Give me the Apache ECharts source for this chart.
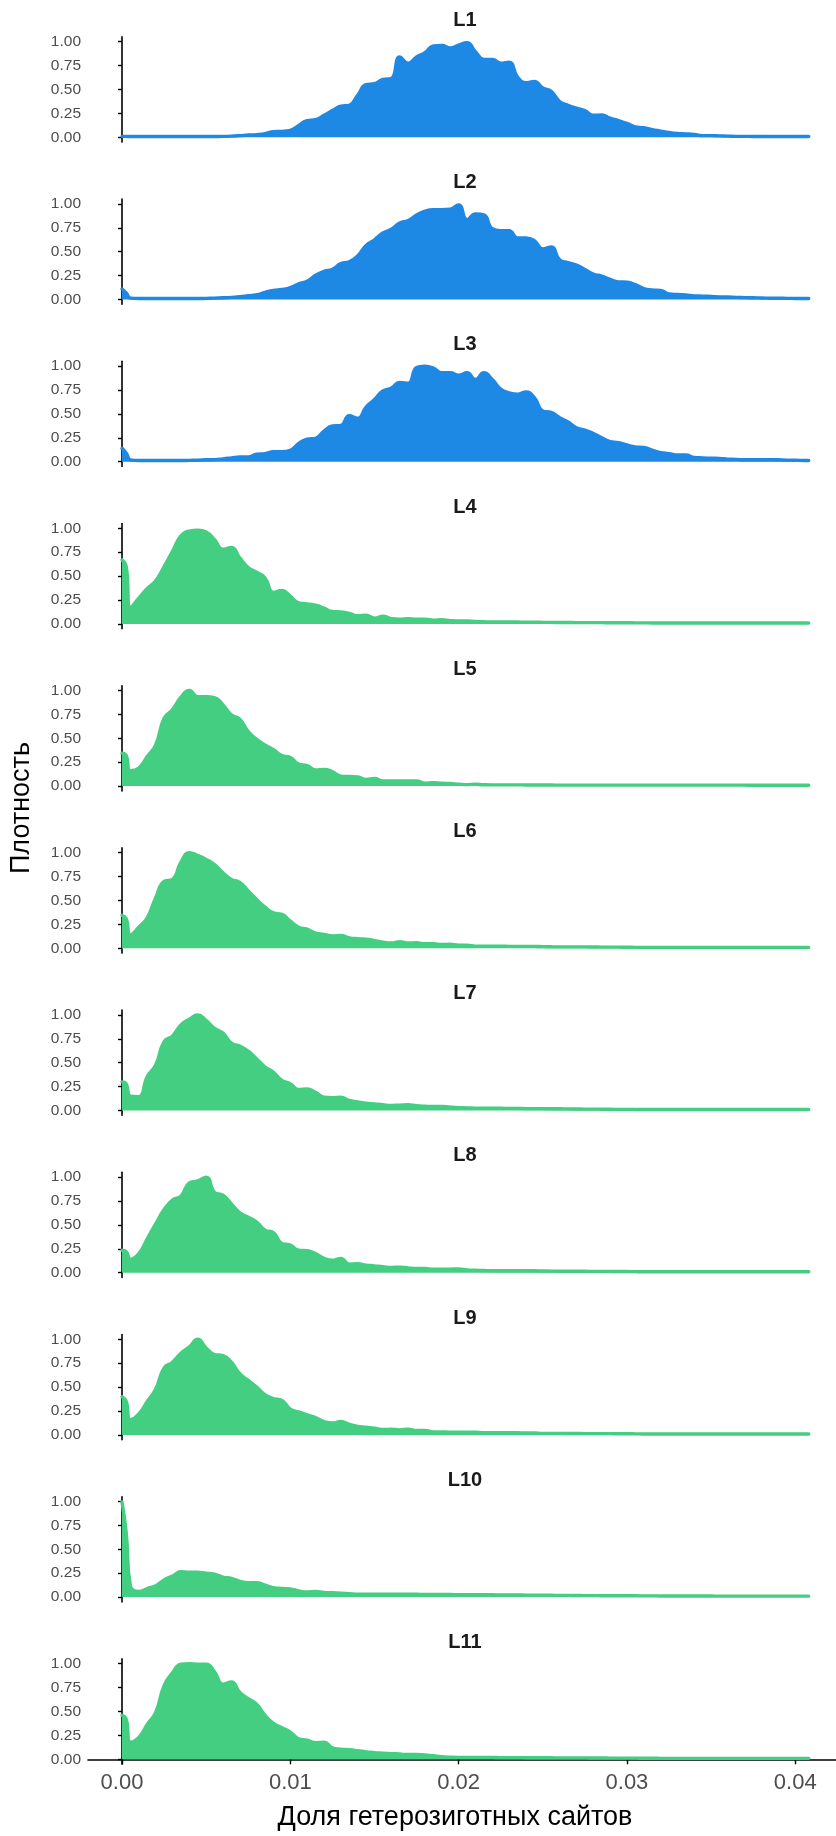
<!DOCTYPE html>
<html>
<head>
<meta charset="utf-8">
<script src="https://cdn.jsdelivr.net/npm/echarts@6/dist/echarts.min.js"></script>
<style>html,body{margin:0;padding:0;background:#fff}#c{width:836px;height:1836px}</style>
</head>
<body>
<div id="c"></div>
<script>
// ---- data ----
const panelNames = ['L1','L2','L3','L4','L5','L6','L7','L8','L9','L10','L11'];
const xTicks = [0, 0.01, 0.02, 0.03, 0.04];
const yTicks = [0, 0.25, 0.5, 0.75, 1];
const X = [0,0.00025,0.0005,0.001,0.0015,0.002,0.0025,0.003,0.0035,0.004,
  0.0045,0.005,0.0055,0.006,0.0065,0.007,0.0075,0.008,0.0085,0.009,
  0.0095,0.01,0.0105,0.011,0.0115,0.012,0.0125,0.013,0.0135,0.014,
  0.0145,0.015,0.0155,0.016,0.0165,0.017,0.0175,0.018,0.0185,0.019,
  0.0195,0.02,0.0205,0.021,0.0215,0.022,0.0225,0.023,0.0235,0.024,
  0.0245,0.025,0.0255,0.026,0.0265,0.027,0.0275,0.028,0.0285,0.029,
  0.0295,0.03,0.0305,0.031,0.0315,0.032,0.0325,0.033,0.0335,0.034,
  0.0345,0.035,0.0355,0.036,0.0365,0.037,0.0375,0.038,0.0385,0.039,
  0.0395,0.04,0.0405,0.0408];
const L1 = [0.01,0.01,0.008,0.008,0.008,0.008,0.008,0.008,0.008,0.008,
  0.008,0.008,0.009,0.01,0.013,0.018,0.024,0.028,0.038,0.06,
  0.062,0.072,0.125,0.175,0.185,0.23,0.28,0.325,0.335,0.44,
  0.55,0.56,0.605,0.615,0.84,0.775,0.84,0.885,0.955,0.96,
  0.935,0.965,0.99,0.895,0.815,0.815,0.775,0.785,0.63,0.57,
  0.585,0.515,0.48,0.375,0.335,0.305,0.28,0.23,0.235,0.2,
  0.175,0.145,0.11,0.1,0.08,0.065,0.05,0.04,0.036,0.03,
  0.018,0.018,0.015,0.012,0.01,0.01,0.009,0.009,0.008,0.008,
  0.008,0.008,0.008,0.008];
const L2 = [0.11,0.07,0.015,0.01,0.01,0.01,0.01,0.01,0.01,0.01,
  0.01,0.012,0.015,0.018,0.022,0.03,0.04,0.05,0.075,0.095,
  0.105,0.125,0.165,0.19,0.255,0.295,0.315,0.375,0.395,0.455,
  0.565,0.625,0.695,0.735,0.8,0.825,0.885,0.925,0.94,0.94,
  0.945,0.99,0.835,0.895,0.885,0.74,0.72,0.72,0.645,0.645,
  0.615,0.53,0.55,0.415,0.385,0.36,0.315,0.265,0.245,0.21,
  0.185,0.18,0.155,0.115,0.1,0.095,0.058,0.052,0.048,0.038,
  0.036,0.032,0.028,0.026,0.022,0.02,0.018,0.016,0.014,0.013,
  0.012,0.011,0.01,0.01];
const L3 = [0.14,0.09,0.02,0.012,0.012,0.012,0.012,0.012,0.012,0.014,
  0.016,0.02,0.022,0.03,0.04,0.05,0.05,0.08,0.085,0.105,
  0.105,0.12,0.19,0.235,0.245,0.32,0.375,0.38,0.48,0.455,
  0.57,0.65,0.74,0.77,0.83,0.82,0.985,1.0,0.98,0.93,
  0.93,0.905,0.93,0.86,0.93,0.86,0.76,0.72,0.705,0.73,
  0.67,0.53,0.515,0.46,0.415,0.355,0.33,0.295,0.25,0.21,
  0.2,0.175,0.155,0.15,0.12,0.095,0.085,0.07,0.07,0.045,
  0.04,0.037,0.034,0.027,0.024,0.02,0.02,0.02,0.022,0.02,
  0.017,0.016,0.013,0.012];
const L4 = [0.67,0.6,0.17,0.27,0.37,0.45,0.6,0.76,0.92,0.97,
  0.98,0.96,0.88,0.78,0.8,0.69,0.59,0.54,0.48,0.33,
  0.35,0.29,0.22,0.21,0.195,0.165,0.13,0.125,0.11,0.085,
  0.09,0.06,0.08,0.055,0.05,0.055,0.05,0.05,0.04,0.045,
  0.035,0.03,0.03,0.025,0.022,0.02,0.02,0.02,0.02,0.018,
  0.018,0.016,0.016,0.015,0.015,0.014,0.014,0.013,0.013,0.012,
  0.012,0.012,0.011,0.011,0.01,0.01,0.01,0.01,0.01,0.01,
  0.01,0.01,0.01,0.01,0.01,0.01,0.01,0.01,0.01,0.01,
  0.01,0.01,0.01,0.01];
const L5 = [0.345,0.32,0.16,0.19,0.31,0.43,0.71,0.8,0.93,1.0,
  0.935,0.935,0.925,0.85,0.745,0.7,0.57,0.49,0.43,0.38,
  0.32,0.3,0.23,0.215,0.17,0.175,0.15,0.105,0.1,0.095,
  0.07,0.08,0.055,0.055,0.055,0.055,0.055,0.03,0.035,0.03,
  0.027,0.02,0.016,0.02,0.014,0.013,0.013,0.013,0.013,0.012,
  0.012,0.011,0.011,0.01,0.01,0.01,0.01,0.01,0.01,0.01,
  0.01,0.01,0.01,0.01,0.01,0.01,0.01,0.01,0.01,0.01,
  0.01,0.01,0.01,0.01,0.01,0.01,0.009,0.009,0.009,0.009,
  0.009,0.009,0.009,0.009];
const L6 = [0.345,0.31,0.14,0.22,0.32,0.53,0.7,0.72,0.9,1.0,
  0.97,0.93,0.875,0.79,0.72,0.69,0.6,0.51,0.43,0.37,
  0.355,0.285,0.22,0.2,0.16,0.145,0.13,0.135,0.11,0.1,
  0.095,0.08,0.065,0.055,0.07,0.055,0.058,0.047,0.047,0.04,
  0.043,0.033,0.033,0.022,0.022,0.022,0.022,0.02,0.02,0.02,
  0.02,0.018,0.016,0.015,0.015,0.015,0.015,0.014,0.013,0.012,
  0.012,0.011,0.01,0.01,0.01,0.01,0.01,0.01,0.01,0.01,
  0.01,0.01,0.01,0.01,0.01,0.01,0.01,0.01,0.01,0.01,
  0.01,0.01,0.01,0.01];
const L7 = [0.3,0.28,0.15,0.145,0.355,0.475,0.72,0.78,0.895,0.955,
  1.0,0.94,0.86,0.81,0.705,0.675,0.62,0.54,0.455,0.4,
  0.315,0.28,0.22,0.225,0.19,0.14,0.135,0.14,0.105,0.09,
  0.076,0.07,0.06,0.053,0.056,0.06,0.05,0.045,0.042,0.042,
  0.035,0.03,0.028,0.025,0.025,0.025,0.024,0.022,0.022,0.02,
  0.02,0.02,0.018,0.018,0.017,0.016,0.015,0.015,0.014,0.013,
  0.012,0.012,0.011,0.01,0.01,0.01,0.01,0.01,0.01,0.01,
  0.01,0.01,0.01,0.01,0.01,0.01,0.01,0.01,0.01,0.01,
  0.01,0.01,0.01,0.01];
const L8 = [0.235,0.22,0.14,0.2,0.355,0.51,0.66,0.76,0.8,0.94,
  0.96,1.0,0.84,0.81,0.72,0.625,0.58,0.53,0.445,0.42,
  0.305,0.29,0.235,0.23,0.2,0.15,0.13,0.15,0.09,0.093,
  0.08,0.072,0.062,0.055,0.058,0.05,0.044,0.044,0.037,0.037,
  0.037,0.04,0.03,0.026,0.023,0.02,0.02,0.02,0.02,0.02,
  0.02,0.018,0.017,0.016,0.016,0.015,0.015,0.014,0.014,0.013,
  0.012,0.012,0.011,0.01,0.01,0.01,0.01,0.01,0.01,0.01,
  0.01,0.01,0.01,0.01,0.01,0.01,0.01,0.01,0.01,0.01,
  0.01,0.01,0.01,0.01];
const L9 = [0.4,0.35,0.16,0.22,0.35,0.48,0.7,0.76,0.855,0.92,
  1.0,0.91,0.84,0.83,0.76,0.64,0.57,0.5,0.42,0.38,
  0.36,0.27,0.24,0.21,0.18,0.14,0.125,0.14,0.11,0.09,
  0.08,0.07,0.056,0.06,0.053,0.06,0.046,0.046,0.032,0.032,
  0.028,0.028,0.028,0.028,0.022,0.022,0.022,0.022,0.022,0.02,
  0.02,0.016,0.016,0.016,0.015,0.015,0.014,0.014,0.013,0.013,
  0.012,0.012,0.011,0.01,0.01,0.01,0.01,0.01,0.01,0.01,
  0.01,0.01,0.01,0.01,0.01,0.01,0.01,0.01,0.01,0.01,
  0.01,0.01,0.01,0.01];
const L10 = [0.995,0.675,0.115,0.058,0.09,0.12,0.18,0.22,0.265,0.26,
  0.26,0.25,0.24,0.21,0.195,0.165,0.15,0.15,0.125,0.1,
  0.09,0.085,0.065,0.055,0.06,0.05,0.045,0.04,0.035,0.03,
  0.03,0.03,0.03,0.03,0.03,0.03,0.03,0.028,0.028,0.027,
  0.027,0.026,0.025,0.025,0.024,0.024,0.023,0.022,0.022,0.021,
  0.02,0.02,0.019,0.018,0.018,0.017,0.016,0.016,0.015,0.015,
  0.015,0.014,0.014,0.013,0.013,0.012,0.012,0.012,0.012,0.011,
  0.011,0.011,0.01,0.01,0.01,0.01,0.01,0.01,0.01,0.01,
  0.01,0.01,0.01,0.01];
const L11 = [0.46,0.42,0.18,0.23,0.365,0.49,0.77,0.905,0.995,1.0,
  0.995,0.995,0.915,0.785,0.81,0.7,0.635,0.575,0.46,0.375,
  0.33,0.285,0.215,0.2,0.175,0.18,0.12,0.105,0.1,0.09,
  0.078,0.07,0.065,0.06,0.055,0.05,0.05,0.047,0.037,0.027,
  0.022,0.02,0.02,0.02,0.02,0.02,0.018,0.018,0.018,0.017,
  0.017,0.016,0.016,0.015,0.015,0.015,0.015,0.014,0.014,0.013,
  0.013,0.012,0.012,0.011,0.011,0.01,0.01,0.01,0.01,0.01,
  0.01,0.01,0.01,0.01,0.01,0.01,0.01,0.01,0.01,0.01,
  0.01,0.01,0.01,0.01];
const seriesValues = [L1,L2,L3,L4,L5,L6,L7,L8,L9,L10,L11];
const groupOf = ['a','a','a','b','b','b','b','b','b','b','b'];
const xTitle = 'Доля гетерозиготных сайтов';
const yTitle = 'Плотность';

// ---- layout / style ----
const COLORS = {a: '#1E88E5', b: '#44CE82'};
const FONT = '"Liberation Sans", Arial, Helvetica, sans-serif';
const TOP0 = 36.9, STEP = 162.2, PH = 105.2, LEFT = 88;
const XMIN = -0.00202, XMAX = 0.04242;

const chart = echarts.init(document.getElementById('c'), null, {renderer: 'canvas'});
const grids = [], xAxes = [], yAxes = [], series = [], graphics = [];
const n = panelNames.length;
for (let i = 0; i < n; i++) {
  const top = TOP0 + STEP * i;
  grids.push({left: LEFT, width: 836 - LEFT, top: top, height: PH, containLabel: false});
  const last = i === n - 1;
  xAxes.push({
    type: 'value', gridIndex: i, min: XMIN, max: XMAX, show: last,
    axisLine: {show: true, lineStyle: {color: '#000', width: 1.6}},
    axisTick: {show: true, length: 5, lineStyle: {color: '#000', width: 1.4}, customValues: xTicks},
    axisLabel: {show: true, customValues: xTicks, formatter: v => v.toFixed(2),
      fontFamily: FONT, fontSize: 22, color: '#4d4d4d', margin: 8},
    splitLine: {show: false}
  });
  yAxes.push({
    type: 'value', gridIndex: i, min: -0.05, max: 1.05,
    axisLine: {show: true, lineStyle: {color: '#000', width: 1.6}},
    axisTick: {show: true, length: 4, lineStyle: {color: '#000', width: 1.4}, customValues: yTicks},
    axisLabel: {show: true, customValues: yTicks, formatter: v => v.toFixed(2),
      fontFamily: FONT, fontSize: 15.5, color: '#4d4d4d', margin: 7},
    splitLine: {show: false}
  });
  const col = COLORS[groupOf[i]];
  series.push({
    type: 'line', xAxisIndex: i, yAxisIndex: i, name: panelNames[i],
    data: X.map((x, j) => [x, seriesValues[i][j]]),
    showSymbol: false, symbol: 'none', smooth: 0.5,
    lineStyle: {color: col, width: 3.4, cap: 'round', join: 'round'},
    areaStyle: {color: col, opacity: 1, origin: 0},
    silent: true, animation: false
  });
  graphics.push({
    type: 'text', x: 465, y: top - 16.5,
    style: {text: panelNames[i], font: 'bold 20px ' + FONT, fill: '#1a1a1a', align: 'center', verticalAlign: 'middle'}
  });
}
graphics.push({
  type: 'text', x: 455, y: 1818,
  style: {text: xTitle, font: '27px ' + FONT, fill: '#000', align: 'center', verticalAlign: 'middle'}
});
graphics.push({
  type: 'text', x: 22, y: 808, rotation: Math.PI / 2,
  style: {text: yTitle, font: '27px ' + FONT, fill: '#000', align: 'center', verticalAlign: 'middle'}
});

chart.setOption({
  animation: false,
  backgroundColor: '#fff',
  grid: grids, xAxis: xAxes, yAxis: yAxes, series: series, graphic: graphics
});
</script>
</body>
</html>
